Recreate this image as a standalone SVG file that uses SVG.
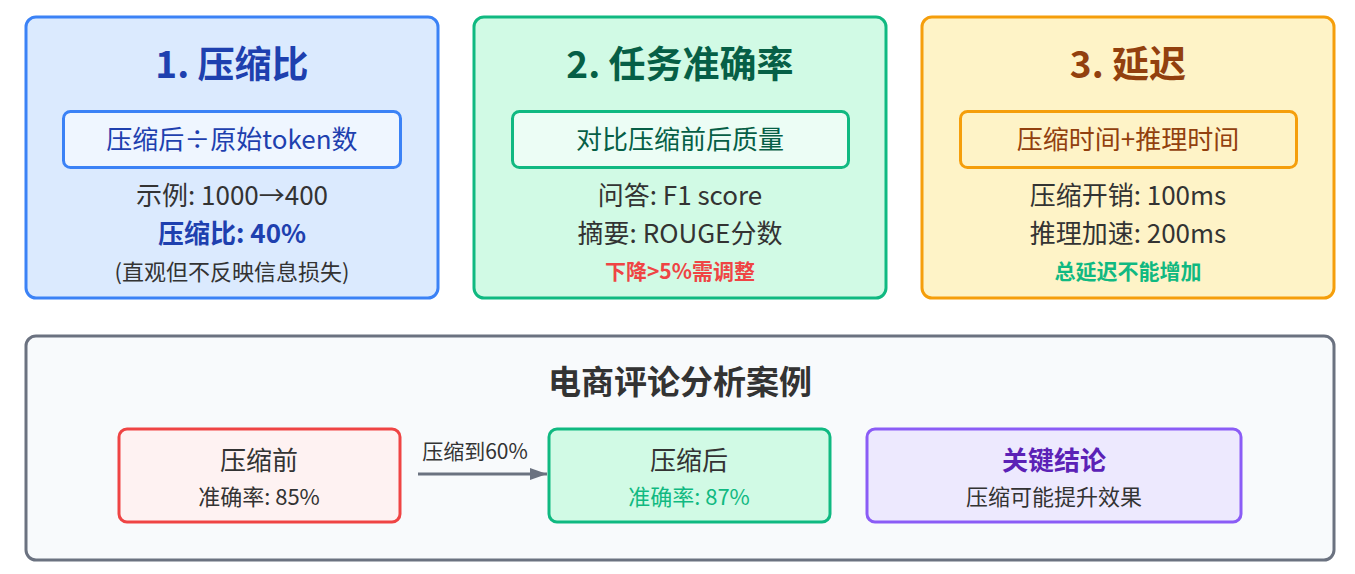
<svg xmlns="http://www.w3.org/2000/svg" width="1355" height="574" viewBox="0 0 1355 574">
<style>
text{font-family:"Noto Sans CJK SC","Noto Sans",sans-serif;text-anchor:middle}
.card{stroke-width:3}
.t{font-size:37px;font-weight:bold}
.f{font-size:26px}
.l{font-size:26px;fill:#333}
.s{font-size:22px;fill:#333}
.w{font-size:21px;font-weight:bold}
.blue{fill:#1e40af}
.grn{fill:#10b981}
</style>
<defs>
<marker id="ah" markerWidth="17" markerHeight="12" refX="17" refY="6" orient="auto" markerUnits="userSpaceOnUse">
<path d="M0,0 L17,6 L0,12 z" fill="#6b7280"/>
</marker>
</defs>
<rect width="1355" height="574" fill="#ffffff"/>
<g id="m1">
<rect class="card" x="26" y="17" width="412" height="281" rx="10" fill="#dbeafe" stroke="#3b82f6"/>
<text class="t" x="232" y="78" fill="#1e40af">1. 压缩比</text>
<rect x="63.5" y="111.5" width="337" height="56" rx="7" fill="#eff6ff" stroke="#3b82f6" stroke-width="3"/>
<text class="f" x="232" y="149" fill="#1e40af">压缩后÷原始token数</text>
<text class="l" x="232" y="205">示例: 1000→400</text>
<text class="l blue" x="232" y="243" font-weight="bold">压缩比: 40%</text>
<text class="s" x="232" y="280">(直观但不反映信息损失)</text>
</g>
<g id="m2">
<rect class="card" x="474" y="17" width="412" height="281" rx="10" fill="#d1fae5" stroke="#10b981"/>
<text class="t" x="680" y="78" fill="#065f46">2. 任务准确率</text>
<rect x="512.5" y="111.5" width="336" height="56" rx="7" fill="#ecfdf5" stroke="#10b981" stroke-width="3"/>
<text class="f" x="680" y="149" fill="#065f46">对比压缩前后质量</text>
<text class="l" x="680" y="205">问答: F1 score</text>
<text class="l" x="680" y="243">摘要: ROUGE分数</text>
<text class="w" x="680" y="279" fill="#ef4444">下降&gt;5%需调整</text>
</g>
<g id="m3">
<rect class="card" x="922" y="17" width="412" height="281" rx="10" fill="#fef3c7" stroke="#f59e0b"/>
<text class="t" x="1128" y="78" fill="#92400e">3. 延迟</text>
<rect x="960.5" y="111.5" width="336" height="56" rx="7" fill="#fef3c7" stroke="#f59e0b" stroke-width="3"/>
<text class="f" x="1128" y="149" fill="#92400e">压缩时间+推理时间</text>
<text class="l" x="1128" y="205">压缩开销: 100ms</text>
<text class="l" x="1128" y="243">推理加速: 200ms</text>
<text class="w" x="1128" y="279" fill="#10b981">总延迟不能增加</text>
</g>
<g id="case">
<rect class="card" x="26" y="336" width="1308" height="224" rx="10" fill="#f8fafc" stroke="#6b7280"/>
<text x="680" y="394" font-size="33" font-weight="bold" fill="#333">电商评论分析案例</text>
</g>
<g id="before">
<rect class="card" x="119" y="429" width="281" height="93" rx="8" fill="#fef2f2" stroke="#ef4444"/>
<text class="l" x="259" y="470">压缩前</text>
<text class="s" x="259" y="505">准确率: 85%</text>
</g>
<g id="after">
<rect class="card" x="549" y="429" width="281" height="93" rx="8" fill="#d1fae5" stroke="#10b981"/>
<text class="l" x="689" y="470">压缩后</text>
<text class="s grn" x="689" y="505">准确率: 87%</text>
</g>
<g id="conclusion">
<rect class="card" x="867" y="429" width="374" height="93" rx="8" fill="#ede9fe" stroke="#8b5cf6"/>
<text x="1054" y="470" font-size="26" font-weight="bold" fill="#5b21b6">关键结论</text>
<text class="s" x="1054" y="505">压缩可能提升效果</text>
</g>
<g id="connectors">
<line x1="418" y1="474" x2="547" y2="474" stroke="#6b7280" stroke-width="3" marker-end="url(#ah)"/>
<text x="475" y="459" font-size="21" fill="#333">压缩到60%</text>
</g>
</svg>
